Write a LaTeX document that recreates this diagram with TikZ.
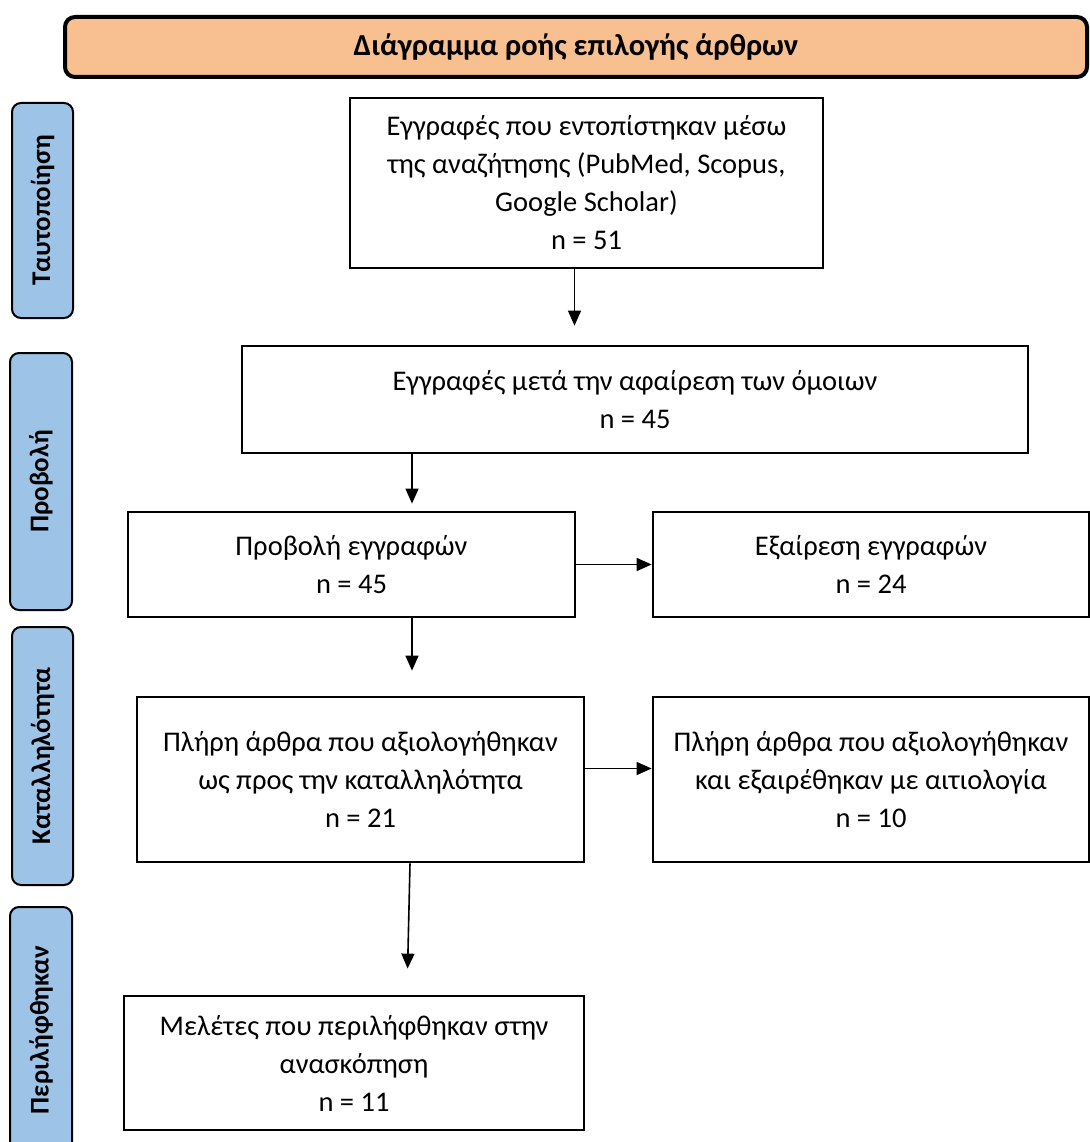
\documentclass[tikz,border=0pt]{standalone}
\usepackage{fontspec}
\setmainfont{Carlito}
\usetikzlibrary{arrows.meta,calc}
\definecolor{peach}{RGB}{248,192,144}
\definecolor{skyblue}{RGB}{157,195,230}
\begin{document}
\begin{tikzpicture}[x=1pt,y=-1pt,
  box/.style={draw=black,line width=2.8pt,fill=white,align=center,inner sep=0pt,
    font=\fontsize{28.5}{38}\selectfont},
  side/.style={draw=black,line width=2pt,fill=skyblue,rounded corners=9pt,rotate=90,
    inner sep=0pt,font=\fontsize{27}{30}\selectfont\bfseries},
  arr/.style={line width=1.6pt,-{Triangle[length=15pt,width=13pt]}}]
\useasboundingbox (0,0) rectangle (1089,1142);
% title
\node[draw=black,line width=4pt,fill=peach,rounded corners=10pt,minimum width=1022pt,
  minimum height=60pt,inner sep=0pt,font=\fontsize{30.5}{34}\selectfont\bfseries]
  (T) at (576,47) {Διάγραμμα ροής επιλογής άρθρων};
% side labels
\node[side,minimum width=215pt,minimum height=61pt] (S1) at (42.5,210.5) {Ταυτοποίηση};
\node[side,minimum width=257pt,minimum height=62pt] (S2) at (41,481.5) {Προβολή};
\node[side,minimum width=258pt,minimum height=61pt] (S3) at (42.5,756) {Καταλληλότητα};
\node[side,minimum width=246pt,minimum height=62pt] (S4) at (41,1030) {Περιλήφθηκαν};
% main boxes
\node[box,minimum width=473pt,minimum height=170pt] (A) at (586.5,183)
  {Εγγραφές που εντοπίστηκαν μέσω\\της αναζήτησης (PubMed, Scopus,\\Google Scholar)\\n = 51};
\node[box,minimum width=786pt,minimum height=107pt] (B) at (635,399.5)
  {Εγγραφές μετά την αφαίρεση των όμοιων\\n = 45};
\node[box,minimum width=447pt,minimum height=105pt] (C) at (351.5,564.5)
  {Προβολή εγγραφών\\n = 45};
\node[box,minimum width=436pt,minimum height=105pt] (D) at (871,564.5)
  {Εξαίρεση εγγραφών\\n = 24};
\node[box,minimum width=447pt,minimum height=165pt] (E) at (360.5,779.5)
  {Πλήρη άρθρα που αξιολογήθηκαν\\ως προς την καταλληλότητα\\n = 21};
\node[box,minimum width=436pt,minimum height=165pt] (F) at (871,779.5)
  {Πλήρη άρθρα που αξιολογήθηκαν\\και εξαιρέθηκαν με αιτιολογία\\n = 10};
\node[box,minimum width=460pt,minimum height=134pt] (G) at (354,1063)
  {Μελέτες που περιλήφθηκαν στην\\ανασκόπηση\\n = 11};
% connectors
\draw[arr,shorten >=19pt] ([xshift=-12pt]A.south) -- ([xshift=-12pt]A.south |- B.north);
\draw[arr,shorten >=7pt] ([xshift=-223pt]B.south) -- ([xshift=-223pt]B.south |- C.north);
\draw[arr] (C.east) -- (C.east -| D.west);
\draw[arr,shorten >=25pt] ([xshift=60.5pt]C.south) -- ([xshift=60.5pt]C.south |- E.north);
\draw[arr] ([yshift=11pt]E.east) -- ([yshift=11pt]E.east -| F.west);
\draw[arr,shorten >=26pt] ([xshift=49.5pt]E.south) -- ([xshift=53pt]G.north);
\end{tikzpicture}
\end{document}
